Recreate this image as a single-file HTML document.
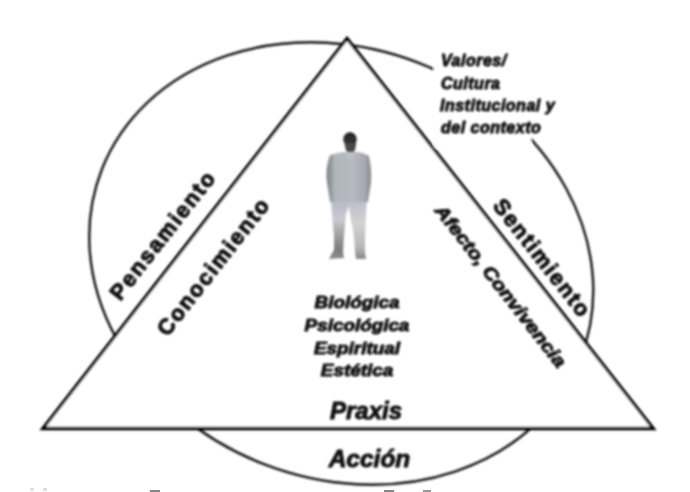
<!DOCTYPE html>
<html><head><meta charset="utf-8">
<style>
html,body{margin:0;padding:0;background:#fff;width:690px;height:492px;overflow:hidden}
svg{display:block}
text{font-family:"Liberation Sans",sans-serif;font-weight:bold;fill:#0a0a0a;stroke:#0a0a0a;stroke-width:0.9}
.it{font-style:italic}
</style></head>
<body>
<svg width="690" height="492" viewBox="0 0 690 492">
<defs>
<linearGradient id="body" x1="0" y1="0" x2="1" y2="0">
<stop offset="0" stop-color="#7c8082"/>
<stop offset="0.2" stop-color="#b0b8b8"/>
<stop offset="0.6" stop-color="#b8b8c4"/>
<stop offset="0.85" stop-color="#a8a8b0"/>
<stop offset="1" stop-color="#88888c"/>
</linearGradient>
<linearGradient id="legs" x1="0" y1="0" x2="0" y2="1">
<stop offset="0" stop-color="#b0b0c0"/>
<stop offset="0.45" stop-color="#cacaca"/>
<stop offset="0.75" stop-color="#a8a8a8"/>
<stop offset="1" stop-color="#909090"/>
</linearGradient>
<filter id="fb" x="-20%" y="-20%" width="140%" height="140%"><feGaussianBlur stdDeviation="1.1"/></filter>
<filter id="lb" x="-5%" y="-5%" width="110%" height="110%"><feGaussianBlur stdDeviation="0.9"/></filter>
<filter id="tb" x="-5%" y="-20%" width="110%" height="140%"><feGaussianBlur stdDeviation="0.8"/></filter>
<linearGradient id="legL" x1="0" y1="0" x2="0" y2="1">
<stop offset="0" stop-color="#b8b8c8"/>
<stop offset="0.35" stop-color="#cacad0"/>
<stop offset="0.55" stop-color="#a8a8a8"/>
<stop offset="0.85" stop-color="#7c7c7c"/>
<stop offset="1" stop-color="#909090"/>
</linearGradient>
<linearGradient id="legR" x1="0" y1="0" x2="0" y2="1">
<stop offset="0" stop-color="#bcbcc8"/>
<stop offset="0.4" stop-color="#d2d2d2"/>
<stop offset="0.8" stop-color="#b8b8b8"/>
<stop offset="1" stop-color="#888"/>
</linearGradient>
</defs>
<rect width="690" height="492" fill="#fff"/>
<g filter="url(#lb)">
<ellipse cx="341.26" cy="263.53" rx="257.25" ry="215.09" transform="rotate(21.45 341.26 263.53)" fill="none" stroke="#161616" stroke-width="2.4"/>
<rect x="434" y="50" width="97" height="98" fill="#fff"/>
<polygon points="347,38.5 42.8,428.5 653.3,428.5" fill="#fff" stroke="#000" stroke-width="3.3" stroke-linejoin="miter"/>
</g>

<!-- figure -->
<g filter="url(#fb)">
<path d="M331,199 L349,199 L349,206 L346,214 L344,236 L343,252 L344,258 L329,259 L331,255 L334,250 L334,236 L332,214 Z" fill="url(#legL)"/>
<path d="M349,199 L367,199 L366,214 L365,236 L365,252 L366,259 L356,259 L355,252 L354,236 L350,214 L349,206 Z" fill="url(#legR)"/>
<path d="M330,155 Q340,152 346,152 L355,152 Q363,152 369,156 Q372,170 371,183 L368,202 L330,202 L327,183 Q325,168 330,155 Z" fill="url(#body)"/>
<path d="M345,153 L355,153 L352,159 L348,159 Z" fill="#c0c0c0"/>
<path d="M344,138 Q344.5,148 347,152 L354,152 Q356.5,148 356,138 Z" fill="#4a4a4a"/>
<path d="M343,141 Q343,133 350,132 Q357,133 357,141 Z" fill="#262626"/>
<rect x="344" y="137" width="12" height="6" fill="#2e2e2e"/>
</g>
<!-- texts -->
<g filter="url(#tb)">
<text x="0" y="0" font-size="22" letter-spacing="1.9" transform="translate(120.2,301.7) rotate(-52)" style="stroke-width:1">Pensamiento</text>
<text x="0" y="0" font-size="22" letter-spacing="1.85" transform="translate(167.5,337.5) rotate(-52)" style="stroke-width:1">Conocimiento</text>
<text x="0" y="0" font-size="22" letter-spacing="1.67" transform="translate(492,206) rotate(52)" style="stroke-width:1">Sentimiento</text>
<text x="0" y="0" font-size="18" class="it" transform="translate(434.1,210.8) rotate(52) scale(1.167 1)">Afecto, Convivencia</text>

<g class="it" font-size="16" letter-spacing="0.5">
<text x="441" y="66">Valores/</text>
<text x="441" y="89">Cultura</text>
<text x="440" y="111">Institucional y</text>
<text x="441" y="133">del contexto</text>
</g>

<g font-size="17" text-anchor="middle">
<text class="it" x="357" y="308" transform="translate(357 0) scale(1.11 1) translate(-357 0)">Biológica</text>
<text class="it" x="357" y="331" transform="translate(357 0) scale(1.11 1) translate(-357 0)">Psicológica</text>
<text class="it" x="357" y="354" transform="translate(357 0) scale(1.11 1) translate(-357 0)">Espiritual</text>
<text class="it" x="357" y="376" transform="translate(357 0) scale(1.11 1) translate(-357 0)">Estética</text>
</g>
<text class="it" x="366" y="419" font-size="24" text-anchor="middle">Praxis</text>
<text class="it" x="369.5" y="467" font-size="24.5" text-anchor="middle">Acción</text>

</g>
<rect x="30" y="488" width="4" height="3" fill="#e2e2e2"/>
<rect x="43" y="488" width="4" height="3" fill="#dcdcdc"/>
<rect x="150" y="490" width="10" height="2" fill="#888"/>
<rect x="384" y="490" width="10" height="2" fill="#888"/>
<rect x="423" y="490" width="8" height="2" fill="#999"/>
</svg>
</body></html>
